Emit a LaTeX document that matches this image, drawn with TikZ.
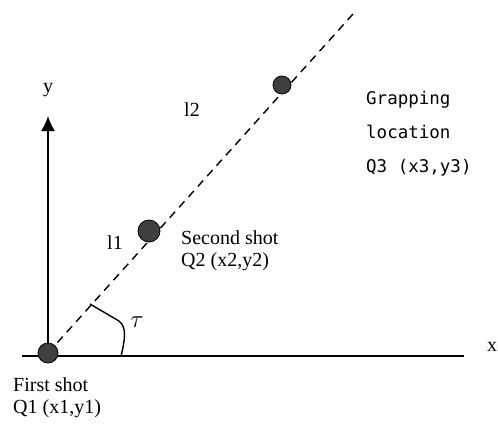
\documentclass[tikz,border=0pt]{standalone}
\usepackage{fontspec}
\setmainfont{Liberation Serif}
\newfontfamily\monofont{DejaVu Sans Mono}
\usepackage{tikz}
\usetikzlibrary{arrows.meta,backgrounds}

\begin{document}
\begin{tikzpicture}[x=1pt,y=-1pt,
    shot/.style={draw,circle,fill=black!75,inner sep=0pt,line width=0.8pt},
    axis/.style={draw,line width=1.5pt},
    dashline/.style={draw,line width=1.4pt,dash pattern=on 8pt off 6pt},
    lbl/.style={font=\fontsize{20}{22}\selectfont,inner sep=0pt,align=left},
    mono/.style={font=\monofont\fontsize{17.5}{34}\selectfont,inner sep=0pt,align=left}]
        \useasboundingbox (0,0) rectangle (498,424);

        \foreach \name/\coord/\size in {q1/{(48,353)}/20pt,q2/{(149,231)}/22pt,q3/{(282,85)}/18pt}{
            \node[shot,minimum size=\size] (\name) at \coord {};
        }
        \coordinate (xstart) at (22,356);
        \coordinate (xend) at (464,356);
        \coordinate (ytip) at (48,116);
        \coordinate (top) at (353,14);
        \coordinate (a1) at (90,304);
        \coordinate (bend) at (119,321);
        \coordinate (a2) at (121,356);

        \begin{pgfonlayer}{background}
            \draw[axis] (xstart) -- (xend);
            \draw[axis,-{Latex[length=15pt,width=14pt]}] (q1.center) -- (ytip);
            \draw[dashline] (q1.center) -- (top);
            \draw[line width=1.4pt] (a1) -- (bend) .. controls (127,327) and (125,340) .. (a2);
        \end{pgfonlayer}

        \node[lbl] (ylbl) at (48,90) {y};
        \node[lbl] (xlbl) at (492,347) {x};
        \node[lbl] (l2) at (192,110) {l2};
        \node[lbl] (l1) at (115,243) {l1};
        \node[lbl,font=\fontsize{26}{26}\selectfont] (tau) at (137,322) {$\tau$};
        \node[lbl,anchor=west] (second) at (181,251) {Second shot\\Q2 (x2,y2)};
        \node[lbl,anchor=west] (first) at (13,398) {First shot\\Q1 (x1,y1)};
        \node[mono,anchor=west] (grap) at (366,134) {Grapping\\location\\Q3 (x3,y3)};
\end{tikzpicture}
\end{document}
